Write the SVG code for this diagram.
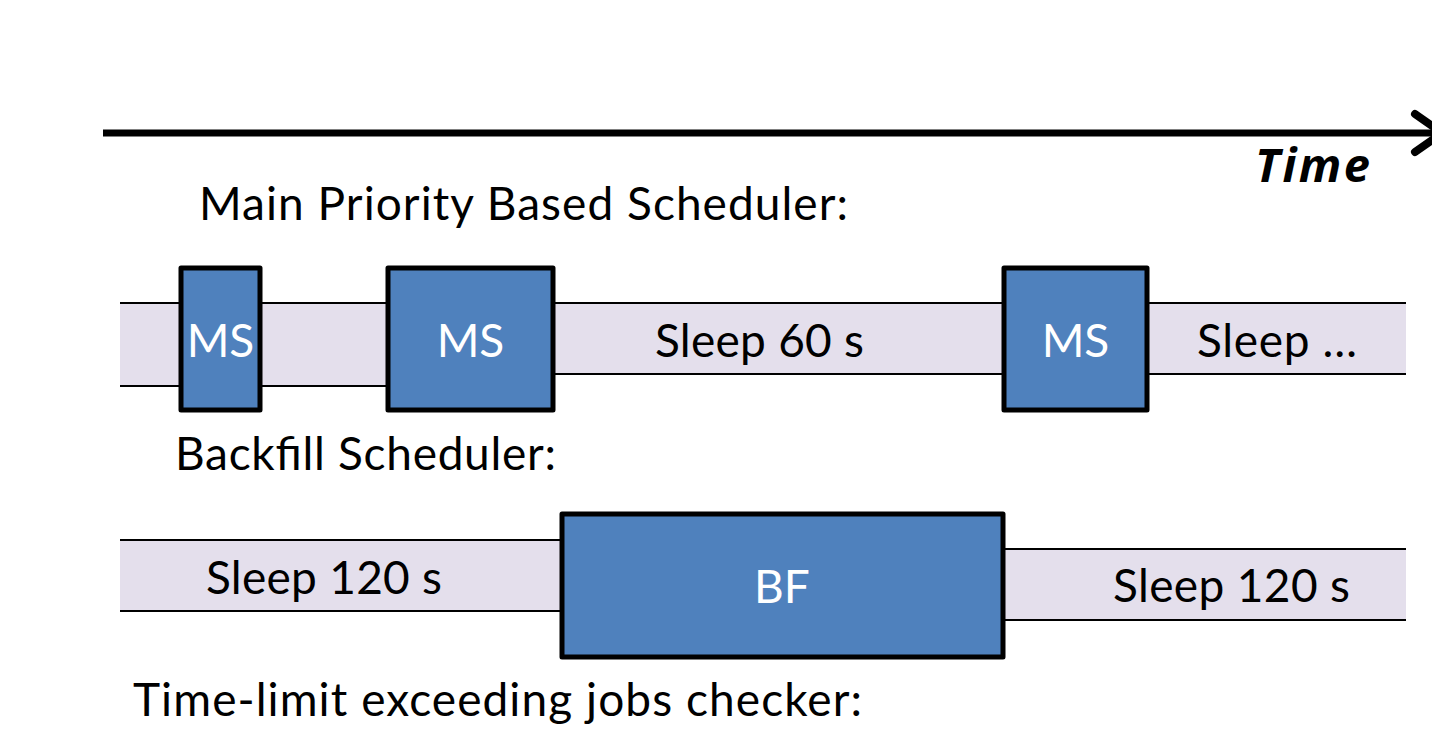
<svg xmlns="http://www.w3.org/2000/svg" width="1432" height="740" viewBox="0 0 1432 740">
  <style>
    .lbl { font-family: Lato, "Open Sans", "Liberation Sans", sans-serif; font-size: 46px; fill: #000; }
    .box { fill: #4F81BD; stroke: #000; stroke-width: 5; stroke-linejoin: round; }
    .boxtxt { font-family: Lato, "Open Sans", "Liberation Sans", sans-serif; font-size: 46px; fill: #fff; text-anchor: middle; }
    .band { fill: #E4DFEC; stroke: none; }
    .edge { stroke: #000; stroke-width: 2; fill: none; }
  </style>
  <rect width="1432" height="740" fill="#fff"/>

  <!-- time axis -->
  <g id="axis">
    <line x1="103" y1="133" x2="1432" y2="133" stroke="#000" stroke-width="7"/>
    <polyline points="1415,114 1442,133 1415,152" fill="none" stroke="#000" stroke-width="8" stroke-linecap="round" stroke-linejoin="round"/>
    <text x="1255" y="182" font-family="'Open Sans', Lato, 'Liberation Sans', sans-serif" font-size="47" font-weight="bold" font-style="italic" textLength="115">Time</text>
  </g>

  <!-- headings -->
  <text class="lbl" x="199" y="220" textLength="649">Main Priority Based Scheduler:</text>
  <text class="lbl" x="175" y="470" textLength="381">Backfill Scheduler:</text>
  <text class="lbl" x="133" y="716" textLength="729">Time-limit exceeding jobs checker:</text>

  <!-- main scheduler lane -->
  <g id="main-lane">
    <rect class="band" x="120" y="303" width="270" height="83"/>
    <line class="edge" x1="120" y1="303" x2="390" y2="303"/>
    <line class="edge" x1="120" y1="386" x2="390" y2="386"/>
    <rect class="band" x="553" y="303" width="853" height="71"/>
    <line class="edge" x1="553" y1="303" x2="1406" y2="303"/>
    <line class="edge" x1="553" y1="374" x2="1406" y2="374"/>
    <text class="lbl" x="655" y="357" textLength="209">Sleep 60 s</text>
    <text class="lbl" x="1197" y="357" textLength="160">Sleep …</text>
  </g>
  <g id="ms1">
    <rect class="box" x="181" y="268" width="79" height="142"/>
    <text class="boxtxt" x="220.5" y="357">MS</text>
  </g>
  <g id="ms2">
    <rect class="box" x="388" y="268" width="165" height="142"/>
    <text class="boxtxt" x="470.5" y="357">MS</text>
  </g>
  <g id="ms3">
    <rect class="box" x="1004" y="268" width="143" height="142"/>
    <text class="boxtxt" x="1075.5" y="357">MS</text>
  </g>

  <!-- backfill lane -->
  <g id="bf-lane">
    <rect class="band" x="120" y="540" width="442" height="71"/>
    <line class="edge" x1="120" y1="540" x2="562" y2="540"/>
    <line class="edge" x1="120" y1="611" x2="562" y2="611"/>
    <rect class="band" x="1003" y="549" width="403" height="71"/>
    <line class="edge" x1="1003" y1="549" x2="1406" y2="549"/>
    <line class="edge" x1="1003" y1="620" x2="1406" y2="620"/>
    <text class="lbl" x="206" y="594" textLength="236">Sleep 120 s</text>
    <text class="lbl" x="1113" y="602" textLength="237">Sleep 120 s</text>
  </g>
  <g id="bf">
    <rect class="box" x="562" y="514" width="441" height="143"/>
    <text class="boxtxt" x="782" y="603">BF</text>
  </g>
</svg>
